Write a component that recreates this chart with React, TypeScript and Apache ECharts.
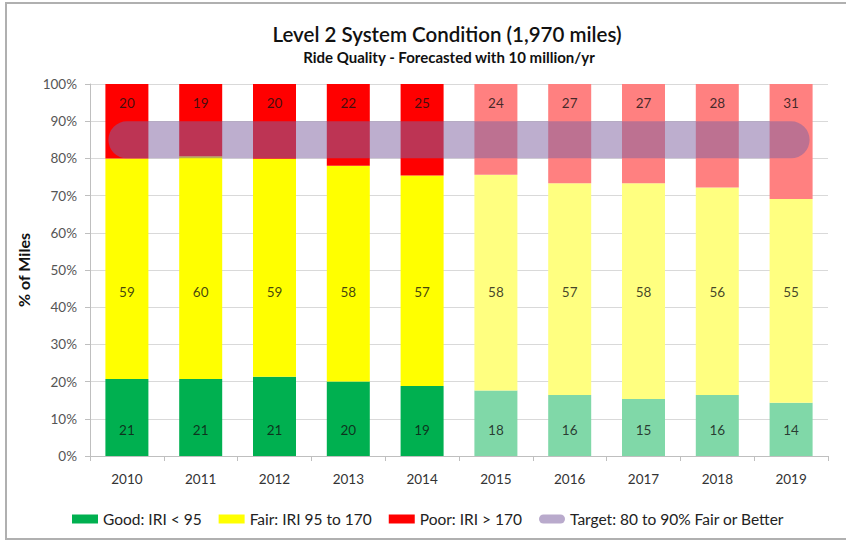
import React, { useEffect, useRef } from "react";
import * as echarts from "echarts";

const years = ["2010", "2011", "2012", "2013", "2014", "2015", "2016", "2017", "2018", "2019"];
const good = [20.7, 20.7, 21.3, 20.0, 18.8, 17.6, 16.4, 15.3, 16.4, 14.3];
const fair = [59.3, 59.9, 58.6, 58.0, 56.6, 58.0, 56.9, 58.0, 55.8, 54.8];
const poor = [20.0, 19.4, 20.1, 22.0, 24.6, 24.4, 26.7, 26.7, 27.8, 30.9];
const target = [85, 85, 85, 85, 85, 85, 85, 85, 85, 85];
const forecastFrom = 5; // index of first forecast year (2015)
const yTicks = [0, 10, 20, 30, 40, 50, 60, 70, 80, 90, 100];

const FONT = "Lato, 'Open Sans', sans-serif";

const names = {
  good: "Good: IRI < 95",
  fair: "Fair: IRI 95 to 170",
  poor: "Poor: IRI > 170",
  target: "Target: 80 to 90% Fair or Better",
};

const solid = { good: "#00b050", fair: "#ffff00", poor: "#ff0000" };
const light = { good: "#80d8a8", fair: "#ffff80", poor: "#ff8080" };
const targetColor = "rgba(128,100,162,0.52)";

// label anchor heights (in % of axis) for each band's data labels
const labelY = { good: 7, fair: 44.1, poor: 94.9 };

export default function App() {
  const ref = useRef<HTMLDivElement>(null);
  useEffect(() => {
    if (!ref.current) return;
    const chart = echarts.init(ref.current, null, { renderer: "svg" });

    const barSeries = (key: "good" | "fair" | "poor", vals: number[]) => ({
      name: names[key],
      type: "bar",
      stack: "total",
      barWidth: 43,
      itemStyle: { color: solid[key] },
      data: vals.map((v, i) => ({
        value: v,
        itemStyle: { color: i >= forecastFrom ? light[key] : solid[key] },
      })),
      z: 2,
    });

    const labelSeries = (key: "good" | "fair" | "poor", vals: number[]) => ({
      name: "lbl_" + key,
      type: "scatter",
      symbolSize: 0,
      silent: true,
      data: vals.map(() => labelY[key]),
      label: {
        show: true,
        position: "inside",
        color: "#111",
        fontSize: 13.5,
        fontFamily: FONT,
        formatter: (p: any) => String(Math.round(vals[p.dataIndex])),
      },
      z: 10,
    });

    chart.setOption({
      animation: false,
      backgroundColor: "#ffffff",
      textStyle: { fontFamily: FONT },
      title: [
        {
          text: "Level 2 System Condition (1,970 miles)",
          left: 442,
          top: 18,
          textAlign: "center",
          textStyle: { fontSize: 20.5, fontWeight: 600, color: "#111", fontFamily: FONT },
        },
        {
          text: "Ride Quality - Forecasted with 10 million/yr",
          left: 444,
          top: 44,
          textAlign: "center",
          textStyle: { fontSize: 15, fontWeight: "bold", color: "#111", fontFamily: FONT },
        },
      ],
      legend: {
        left: 67,
        top: 506,
        itemWidth: 26,
        itemHeight: 9,
        itemGap: 17,
        textStyle: { fontSize: 15.5, color: "#222", fontFamily: FONT },
        data: [
          { name: names.good, icon: "rect" },
          { name: names.fair, icon: "rect" },
          { name: names.poor, icon: "rect" },
          {
            name: names.target,
            icon: "path://M4.5,0 H21.5 A4.5,4.5 0 0 1 21.5,9 H4.5 A4.5,4.5 0 0 1 4.5,0 Z",
            itemStyle: { color: "rgba(128,100,162,0.55)" },
          },
        ],
      },
      grid: { left: 90, right: 18, top: 84, bottom: 85 },
      xAxis: {
        type: "category",
        data: years,
        axisLine: { lineStyle: { color: "#bfbfbf" } },
        axisTick: { show: true, alignWithLabel: false, length: 5, lineStyle: { color: "#bfbfbf" } },
        axisLabel: { color: "#333", fontSize: 13.5, margin: 16, fontFamily: FONT },
      },
      yAxis: {
        type: "value",
        min: yTicks[0],
        max: yTicks[yTicks.length - 1],
        interval: 10,
        name: "% of Miles",
        nameLocation: "middle",
        nameGap: 55,
        nameRotate: 90,
        nameTextStyle: { fontSize: 16, fontWeight: "bold", color: "#111", fontFamily: FONT },
        axisLine: { show: true, lineStyle: { color: "#bfbfbf" } },
        axisTick: { show: true, length: 5, lineStyle: { color: "#bfbfbf" } },
        axisLabel: { formatter: "{value}%", color: "#555", fontSize: 13.5, margin: 13, fontFamily: FONT },
        splitLine: { lineStyle: { color: "#d9d9d9" } },
      },
      series: [
        barSeries("good", good),
        barSeries("fair", fair),
        barSeries("poor", poor),
        {
          name: names.target,
          type: "line",
          data: target,
          symbol: "none",
          silent: true,
          itemStyle: { color: "rgba(128,100,162,0.55)" },
          lineStyle: { width: 37, color: targetColor, cap: "round" },
          z: 5,
        },
        labelSeries("good", good),
        labelSeries("fair", fair),
        labelSeries("poor", poor),
      ],
      graphic: [
        {
          type: "rect",
          shape: { x: 6, y: 3, width: 900, height: 536 },
          style: { fill: "none", stroke: "#b0b0b0", lineWidth: 2 },
          silent: true,
          z: -1,
        },
      ],
    });
    return () => chart.dispose();
  }, []);
  return (
    <div
      ref={ref}
      style={{ position: "fixed", left: 0, top: 0, width: 846, height: 541 }}
    />
  );
}
